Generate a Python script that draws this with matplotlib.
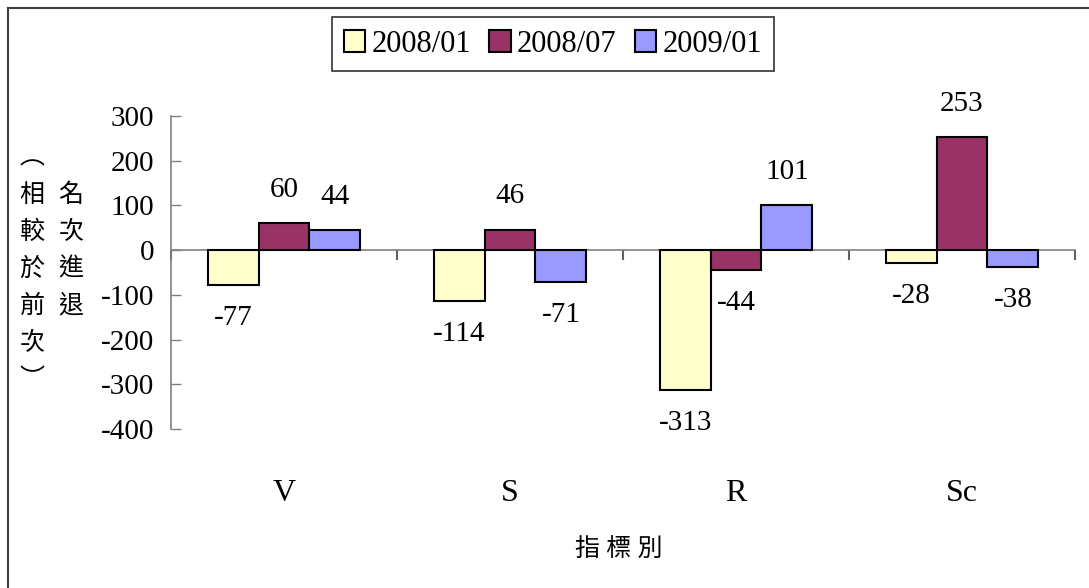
import numpy as np
import matplotlib.pyplot as plt
from matplotlib.lines import Line2D
from matplotlib.transforms import blended_transform_factory

plt.rcParams['font.family'] = ['Liberation Serif', 'Noto Sans CJK TC', 'DejaVu Sans']
plt.rcParams['axes.unicode_minus'] = False

categories = ['V', 'S', 'R', 'Sc']
series_names = ['2008/01', '2008/07', '2009/01']
v_200801 = [-77, -114, -313, -28]
v_200807 = [60, 46, -44, 253]
v_200901 = [44, -71, 101, -38]
colors = ['#FFFFCC', '#993366', '#9999FF']

W, H = 1089, 588
fig = plt.figure(figsize=(W / 100, H / 100), dpi=100)
ax = fig.add_axes([171 / W, 1 - 429 / H, (1075 - 171) / W, (429 - 116) / H])

x = np.arange(len(categories))
bw = 0.225
for k, (vals, name, c) in enumerate(zip([v_200801, v_200807, v_200901], series_names, colors)):
    pos = x + (k - 1) * bw
    ax.bar(pos, vals, bw, color=c, edgecolor='black', linewidth=1.5, label=name, zorder=3)
    for xi, v in zip(pos, vals):
        off = 24 if v > 0 else -24
        ax.annotate(str(v), (xi, v), xytext=(0, off), textcoords='offset points',
                    ha='center', va='center', fontsize=21)

ax.set_xlim(-0.5, len(categories) - 0.5)
ax.set_ylim(-400, 300)
ax.set_yticks(np.arange(-400, 301, 100))
ax.tick_params(axis='y', direction='in', length=7, width=1, color='#808080',
               labelsize=21, pad=12)

for s in ['top', 'right']:
    ax.spines[s].set_visible(False)
ax.spines['left'].set_color('#808080')
ax.spines['left'].set_linewidth(1.2)
ax.spines['bottom'].set_position(('data', 0))
ax.spines['bottom'].set_color('#808080')
ax.spines['bottom'].set_linewidth(1.2)
ax.spines['bottom'].set_zorder(2)

ax.set_xticks(np.arange(-0.5, len(categories), 1.0))
ax.set_xticklabels([])
ax.tick_params(axis='x', direction='out', length=7, width=1.5, color='#606060')

trans = blended_transform_factory(ax.transData, ax.transAxes)
for xi, cat in zip(x, categories):
    ax.text(xi, -0.205, cat, transform=trans, ha='center', va='center', fontsize=23)

# x label
fig.text(619 / W, 1 - 550 / H, '指 標 別', ha='center', va='center', fontsize=18)

# vertical y label, two columns
col_right = '名次進退'
col_left = '︵相較於前次︶'
for i, ch in enumerate(col_right):
    fig.text(71 / W, 1 - (195 + i * 37) / H, ch, ha='center', va='center', fontsize=18)
for i, ch in enumerate(col_left):
    fig.text(32 / W, 1 - (158 + i * 37) / H, ch, ha='center', va='center', fontsize=18)

leg = fig.legend(loc='center', bbox_to_anchor=(553 / W, 1 - 44 / H), ncol=3,
                 fontsize=22, frameon=True, fancybox=False, edgecolor='black',
                 handlelength=0.7, handleheight=0.7, handletextpad=0.2,
                 columnspacing=0.6, borderpad=0.4)
leg.get_frame().set_linewidth(1.2)

# outer border (left and top)
fig.add_artist(Line2D([8 / W, 8 / W], [0, 1 - 8 / H], transform=fig.transFigure,
                      color='#404040', linewidth=1.5))
fig.add_artist(Line2D([8 / W, 1], [1 - 8 / H, 1 - 8 / H], transform=fig.transFigure,
                      color='#404040', linewidth=1.5))

fig.savefig('out.png', dpi=100)
